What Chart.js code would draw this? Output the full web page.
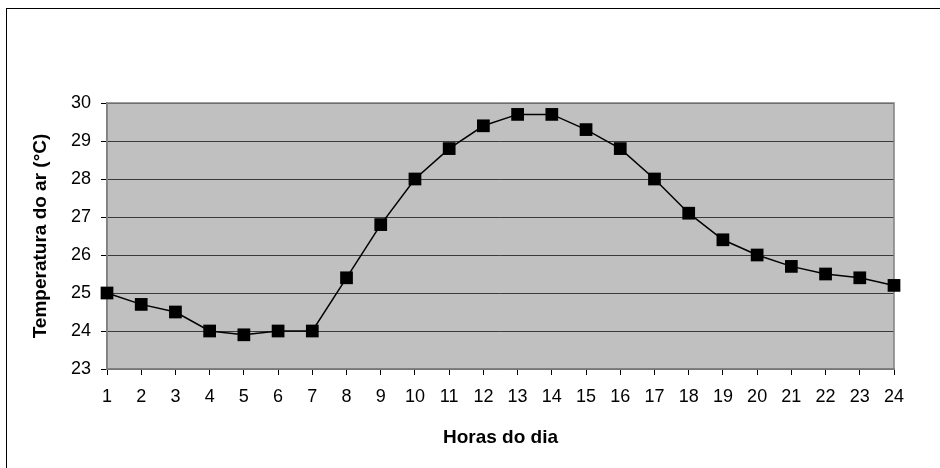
<!DOCTYPE html>
<html>
<head>
<meta charset="utf-8">
<script src="https://cdn.jsdelivr.net/npm/chart.js@4.4.1/dist/chart.umd.min.js"></script>
<style>
  html, body { margin: 0; padding: 0; background: #fff; }
  #wrap { width: 940px; height: 468px; position: relative; }
</style>
</head>
<body>
<div id="wrap"><canvas id="c" width="940" height="468"></canvas></div>
<script>
// horas do dia
const horas = [1, 2, 3, 4, 5, 6, 7, 8, 9, 10, 11, 12, 13, 14, 15, 16, 17, 18, 19, 20, 21, 22, 23, 24];
// temperatura do ar (°C)
const temperatura = [25.0, 24.7, 24.5, 24.0, 23.9, 24.0, 24.0, 25.4, 26.8, 28.0, 28.8, 29.4,
                     29.7, 29.7, 29.3, 28.8, 28.0, 27.1, 26.4, 26.0, 25.7, 25.5, 25.4, 25.2];
const yMin = 23, yMax = 30;

// fundo cinza da área do gráfico + moldura externa
const fundo = {
    id: 'fundo',
    beforeDraw(chart) {
        const { ctx, chartArea: a } = chart;
        ctx.save();
        ctx.fillStyle = '#fff';
        ctx.fillRect(0, 0, chart.width, chart.height);
        ctx.strokeStyle = '#000';
        ctx.lineWidth = 1;
        ctx.strokeRect(6.5, 8.5, 960, 480);
        ctx.fillStyle = '#c0c0c0';
        ctx.fillRect(a.left, a.top, a.right - a.left, a.bottom - a.top);
        ctx.restore();
    },
    beforeDatasetsDraw(chart) {
        const { ctx, chartArea: a } = chart;
        ctx.save();
        ctx.strokeStyle = '#808080';
        ctx.lineWidth = 1.5;
        ctx.strokeRect(a.left, a.top, a.right - a.left, a.bottom - a.top);
        ctx.restore();
    }
};

new Chart(document.getElementById('c'), {
    type: 'line',
    data: {
        labels: horas,
        datasets: [{
            data: temperatura,
            borderColor: '#000',
            borderWidth: 1.5,
            backgroundColor: '#000',
            pointStyle: 'rect',
            pointRadius: 9,
            pointBorderWidth: 0,
            pointBackgroundColor: '#000',
            tension: 0,
            fill: false
        }]
    },
    plugins: [fundo],
    options: {
        responsive: false,
        animation: false,
        layout: { padding: { left: 0, top: 103, right: 46, bottom: 0 } },
        plugins: { legend: { display: false }, tooltip: { enabled: false } },
        scales: {
            x: {
                type: 'category',
                offset: false,
                afterFit: s => { s.height = 99; },
                grid: { drawOnChartArea: false, tickLength: 6, color: '#000', lineWidth: 1 },
                border: { display: true, color: '#808080', width: 1.5 },
                ticks: { color: '#000', padding: 11, maxRotation: 0, autoSkip: false,
                         font: { family: 'Liberation Sans, Arial', size: 18 } },
                title: { display: true, text: 'Horas do dia', color: '#000', padding: 19,
                         font: { family: 'Liberation Sans, Arial', size: 19, weight: 'bold' } }
            },
            y: {
                min: yMin,
                max: yMax,
                afterFit: s => { s.width = 107; },
                grid: { color: '#3a3a3a', lineWidth: 1, tickLength: 6,
                        tickColor: '#000' },
                border: { display: true, color: '#808080', width: 1.5 },
                ticks: { stepSize: 1, color: '#000', padding: 10,
                         font: { family: 'Liberation Sans, Arial', size: 18 } },
                title: { display: true, text: 'Temperatura do ar (°C)', color: '#000', padding: 29,
                         font: { family: 'Liberation Sans, Arial', size: 19, weight: 'bold' } }
            }
        }
    }
});
</script>
</body>
</html>
